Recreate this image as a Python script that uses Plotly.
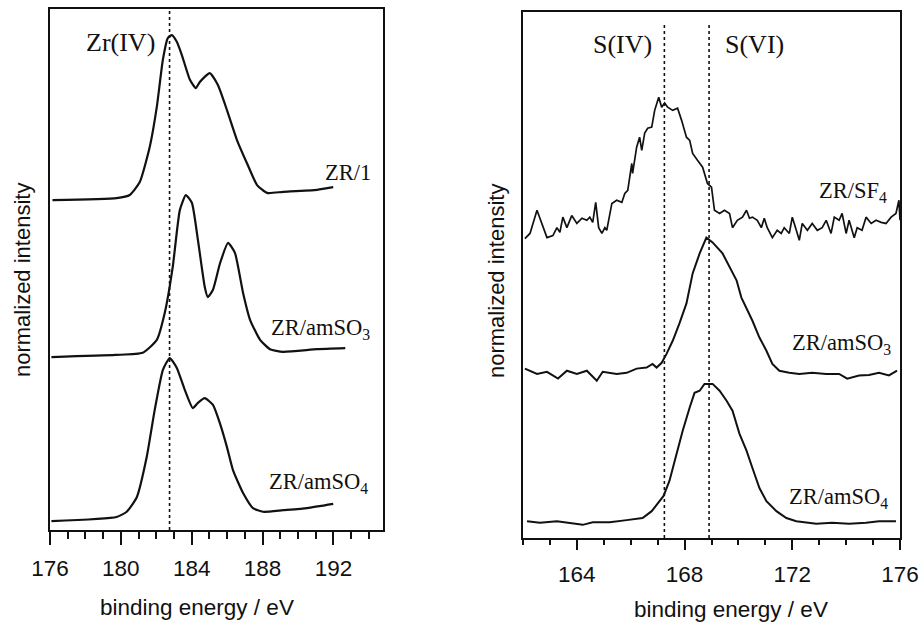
import plotly.graph_objects as go

# ---------------- Zr 3d panel (left) ----------------
zr1_e = [176.14, 179.76, 180.5, 181.07, 181.63, 182.03, 182.37, 182.65, 182.88, 183.16,
         183.44, 183.9, 184.23, 184.46, 185.02, 185.48, 185.99, 186.55, 187.12, 187.69,
         188.25, 189.16, 191.08, 191.99]
zr1_i = [63.3, 63.7, 64.3, 66.8, 73.5, 81.2, 90.2, 94.4, 95.0, 93.7,
         91.2, 86.4, 84.8, 86.0, 87.7, 85.4, 80.6, 74.9, 70.4, 66.2,
         64.7, 64.9, 65.3, 65.8]

zrso3_e = [176.08, 179.7, 181.23, 182.03, 182.48, 182.93, 183.33, 183.67, 184.01, 184.35,
           184.74, 184.91, 185.2, 185.6, 186.05, 186.44, 186.9, 187.3, 187.86, 188.42,
           189.16, 191.08, 192.67]
zrso3_i = [33.2, 33.6, 34.0, 36.5, 41.7, 50.5, 61.4, 64.3, 62.8, 55.7,
           46.6, 44.7, 46.1, 51.2, 55.1, 53.2, 45.5, 40.3, 36.5, 34.7,
           34.2, 34.7, 34.9]

zrso4_e = [176.08, 179.76, 180.33, 180.9, 181.46, 181.91, 182.37, 182.76, 183.16, 183.61,
           184.06, 184.35, 184.74, 185.2, 185.59, 185.99, 186.33, 186.9, 187.46, 188.03,
           189.16, 190.52, 191.99]
zrso4_i = [1.7, 2.5, 3.5, 6.3, 14.0, 23.0, 30.7, 33.0, 31.1, 26.9,
           23.4, 24.4, 25.3, 24.0, 20.5, 15.9, 11.5, 7.1, 4.2, 3.5,
           3.8, 4.2, 5.0]

zr_ref = [182.75]

# ---------------- S 2p panel (right) ----------------
sf4_e = [162.07, 162.26, 162.52, 162.70, 162.89, 163.11, 163.26, 163.37, 163.48, 163.63,
         163.81, 164.00, 164.19, 164.37, 164.48, 164.59, 164.70, 164.81, 164.93, 165.04,
         165.11, 165.30, 165.48, 165.67, 165.78, 165.89, 166.04, 166.07, 166.22, 166.33,
         166.41, 166.52, 166.63, 166.78, 166.89, 167.04, 167.15, 167.26, 167.37, 167.56,
         167.74, 167.89, 168.07, 168.19, 168.30, 168.48, 168.67, 168.85, 169.00, 169.11,
         169.30, 169.48, 169.67, 169.78, 169.96, 170.15, 170.30, 170.41, 170.52, 170.70,
         170.85, 170.96, 171.07, 171.26, 171.44, 171.59, 171.70, 171.89, 172.00, 172.15,
         172.26, 172.37, 172.56, 172.74, 172.93, 173.11, 173.26, 173.44, 173.56, 173.74,
         173.85, 174.00, 174.11, 174.30, 174.41, 174.59, 174.74, 174.93, 175.11, 175.30,
         175.48, 175.67, 175.85, 175.96, 176.0]
sf4_i = [56.9, 57.9, 62.3, 59.8, 57.1, 57.5, 59.0, 58.1, 61.0, 59.0,
         61.3, 59.8, 60.8, 60.4, 61.0, 60.0, 63.8, 59.0, 57.9, 59.0,
         58.5, 63.6, 64.2, 63.8, 65.5, 66.1, 71.2, 69.3, 74.3, 76.2,
         73.7, 77.0, 77.9, 78.1, 81.3, 83.8, 81.9, 82.7, 81.9, 81.3,
         81.7, 79.4, 76.2, 75.6, 73.1, 71.8, 70.5, 67.4, 66.7, 62.3,
         61.7, 62.3, 61.7, 59.0, 60.4, 61.0, 62.3, 60.8, 61.0, 60.4,
         59.0, 60.8, 59.0, 57.1, 58.5, 57.9, 59.0, 57.9, 61.0, 58.5,
         56.6, 59.8, 58.5, 59.8, 58.5, 59.0, 60.4, 57.9, 61.0, 60.4,
         61.7, 57.9, 60.4, 57.1, 59.0, 58.5, 61.0, 59.8, 60.4, 60.0,
         59.8, 61.0, 61.7, 64.2, 60.4]

sso3_e = [162.07, 162.52, 162.89, 163.30, 163.63, 164.00, 164.37, 164.74, 164.96, 165.48,
          165.85, 166.22, 166.59, 166.81, 166.96, 167.15, 167.33, 167.56, 167.81, 168.07,
          168.30, 168.56, 168.81, 169.04, 169.41, 169.74, 169.93, 170.11, 170.30, 170.52,
          170.78, 171.04, 171.26, 171.52, 171.89, 172.26, 172.74, 173.26, 173.74, 174.04,
          174.48, 174.85, 175.22, 175.59, 175.89]
sso3_i = [32.2, 31.2, 31.6, 30.3, 31.8, 31.2, 31.8, 29.9, 31.6, 31.2,
          31.4, 32.2, 32.4, 33.1, 32.4, 33.3, 35.0, 37.5, 40.8, 44.6,
          50.3, 54.1, 57.1, 56.2, 54.1, 50.9, 49.0, 45.7, 43.8, 41.3,
          38.1, 35.6, 33.1, 31.8, 31.4, 31.2, 31.4, 31.2, 31.2, 30.3,
          30.9, 31.0, 31.4, 30.9, 31.8]

sso4_e = [162.15, 162.63, 163.26, 163.74, 164.22, 164.59, 165.22, 165.85, 166.44, 166.78,
          167.00, 167.22, 167.44, 167.70, 167.93, 168.19, 168.37, 168.56, 168.74, 169.04,
          169.30, 169.56, 169.78, 170.04, 170.30, 170.52, 170.78, 171.04, 171.41, 171.78,
          172.15, 172.89, 173.48, 174.11, 174.74, 175.22, 175.85]
sso4_i = [3.2, 2.9, 3.2, 2.9, 2.5, 3.0, 3.0, 3.4, 3.8, 5.1,
          6.5, 8.0, 10.9, 16.0, 20.4, 24.8, 27.6, 28.0, 29.3, 29.3,
          28.0, 26.1, 24.2, 19.8, 16.6, 13.3, 9.5, 7.0, 5.1, 3.8,
          3.2, 2.7, 2.9, 2.7, 2.9, 3.2, 3.2]

s_refs = [167.25, 168.91]

# tick settings
zr_ticks = [176, 180, 184, 188, 192]
s_ticks = [164, 168, 172, 176]

SANS = "Liberation Sans, Arial, sans-serif"
SERIF = "Liberation Serif, Times New Roman, serif"
INK = "#111111"

fig = go.Figure()

def add_line(x, y, xa, ya, w=2.2, smooth=True):
    line = dict(color=INK, width=w)
    if smooth:
        line.update(shape="spline", smoothing=0.5)
    fig.add_trace(go.Scatter(x=x, y=y, mode="lines", xaxis=xa, yaxis=ya,
                             line=line, showlegend=False, hoverinfo="skip"))

add_line(zr1_e, zr1_i, "x", "y")
add_line(zrso3_e, zrso3_i, "x", "y")
add_line(zrso4_e, zrso4_i, "x", "y")
add_line(sf4_e, sf4_i, "x2", "y2", 1.7, smooth=False)
add_line(sso3_e, sso3_i, "x2", "y2", 2.0, smooth=False)
add_line(sso4_e, sso4_i, "x2", "y2", 2.0, smooth=False)

for e in zr_ref:
    fig.add_shape(type="line", xref="x", yref="y", x0=e, x1=e, y0=0, y1=100,
                  line=dict(color=INK, width=1.6, dash="dot"))
for e in s_refs:
    fig.add_shape(type="line", xref="x2", yref="y2", x0=e, x1=e, y0=0, y1=98,
                  line=dict(color=INK, width=1.6, dash="dot"))

axis_common = dict(showline=True, mirror=True, linecolor=INK, linewidth=2,
                   showgrid=False, zeroline=False, automargin=False)

fig.update_layout(
    width=920, height=623,
    margin=dict(l=0, r=0, t=0, b=0, pad=0, autoexpand=False),
    paper_bgcolor="white", plot_bgcolor="white", showlegend=False,
    xaxis=dict(domain=[50/920, 383/920], range=[176, 194.8], tickmode="array",
               tickvals=zr_ticks, ticks="outside", ticklen=13, tickwidth=2,
               tickcolor=INK, ticklabelstandoff=4,
               tickfont=dict(family=SANS, size=22.5, color=INK),
               minor=dict(dtick=1, tick0=176, ticks="outside", ticklen=7,
                          tickwidth=2, tickcolor=INK, showgrid=False),
               anchor="y", **axis_common),
    yaxis=dict(domain=[(623-530)/623, (623-9)/623], range=[0, 100],
               showticklabels=False, ticks="", anchor="x", **axis_common),
    xaxis2=dict(domain=[523/920, 900/920], range=[162, 176], tickmode="array",
                tickvals=s_ticks, ticks="outside", ticklen=10, tickwidth=2,
                tickcolor=INK, ticklabelstandoff=5,
                tickfont=dict(family=SANS, size=22.5, color=INK),
                minor=dict(dtick=1, tick0=162, ticks="outside", ticklen=5,
                           tickwidth=2, tickcolor=INK, showgrid=False),
                anchor="y2", **axis_common),
    yaxis2=dict(domain=[(623-538)/623, (623-12)/623], range=[0, 100],
                showticklabels=False, ticks="", anchor="x2", **axis_common),
)

ann = []
def txt(text, x, y, xref="paper", yref="paper", size=22, family=SERIF, angle=0):
    ann.append(dict(text=text, x=x, y=y, xref=xref, yref=yref, showarrow=False,
                    xanchor="center", yanchor="middle", textangle=angle,
                    font=dict(family=family, size=size, color=INK)))

# axis titles
txt("normalized intensity", 22/920, 1 - 280/623, size=22, family=SANS, angle=-90)
txt("normalized intensity", 496/920, 1 - 281/623, size=22, family=SANS, angle=-90)
txt("binding energy / eV", 197/920, 1 - 607/623, size=22.5, family=SANS)
txt("binding energy / eV", 731/920, 1 - 609/623, size=22.5, family=SANS)

# peak / sample labels
txt("Zr(IV)", 180.0, 93.5, "x", "y", size=26)
txt("ZR/1", 192.8, 68.7, "x", "y", size=22.5)
txt("ZR/amSO<sub>3</sub>", 191.25, 38.5, "x", "y", size=22.5)
txt("ZR/amSO<sub>4</sub>", 191.14, 9.0, "x", "y", size=22.5)
txt("S(IV)", 165.71, 93.9, "x2", "y2", size=26)
txt("S(VI)", 170.58, 93.9, "x2", "y2", size=26)
txt("ZR/SF<sub>4</sub>", 174.25, 65.8, "x2", "y2", size=22.5)
txt("ZR/amSO<sub>3</sub>", 173.81, 36.8, "x2", "y2", size=22.5)
txt("ZR/amSO<sub>4</sub>", 173.70, 7.7, "x2", "y2", size=22.5)

fig.update_layout(annotations=ann)
fig.write_html("out.html")
